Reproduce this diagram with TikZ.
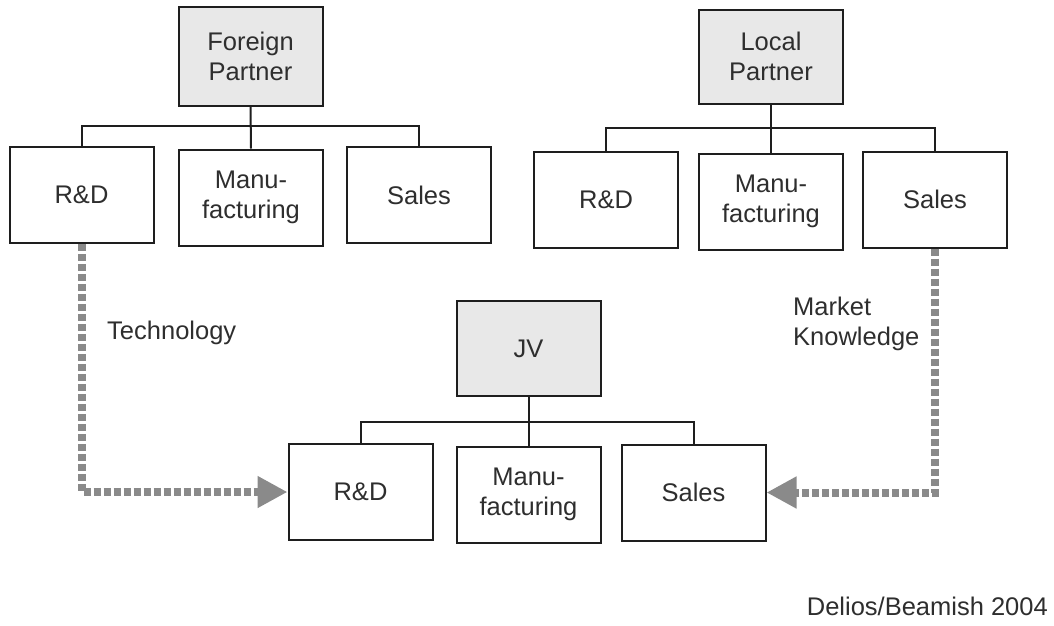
\documentclass[tikz,border=0pt]{standalone}
\usepackage{fontspec}
\setmainfont{Liberation Sans}
\usetikzlibrary{arrows.meta}
\definecolor{txt}{HTML}{2E2E2E}
\definecolor{edge}{HTML}{1E1E1E}
\definecolor{boxfill}{HTML}{E8E8E8}
\definecolor{flowgray}{HTML}{8A8A8A}
\begin{document}
\begin{tikzpicture}[x=1pt,y=-1pt,
  every node/.style={font=\fontsize{25.5}{30}\selectfont, text=txt},
  unit/.style={draw=edge, line width=2pt, minimum width=144pt, minimum height=96pt, inner sep=0pt, align=center, fill=white},
  head/.style={unit, fill=boxfill, minimum height=97pt},
  tree/.style={draw=edge, line width=2pt},
  flow/.style={draw=flowgray, line width=8pt, dash pattern=on 7pt off 3pt, -{Triangle[length=30pt,width=30pt]}},
  lbl/.style={align=left, inner sep=0pt}
]
\useasboundingbox (0,0) rectangle (1054,625);

% Foreign partner
\node[head, minimum height=99pt] (fp) at (250.5,56.5) {Foreign\\Partner};
\node[unit] (fr) at (81.5,195) {R\&D};
\node[unit] (fm) at (251,197.5) {Manu-\\facturing};
\node[unit] (fs) at (419,195) {Sales};
\coordinate (fbus) at (251,126);
\draw[tree] (fr.north) |- (fbus) -| (fs.north);
\draw[tree] (fp.south) -- (fm.north);

% Local partner
\node[head, minimum height=94pt] (lp) at (771,56.5) {Local\\Partner};
\node[unit] (lr) at (606,199.5) {R\&D};
\node[unit] (lm) at (771,201.5) {Manu-\\facturing};
\node[unit] (ls) at (935,199.5) {Sales};
\coordinate (lbus) at (771,128);
\draw[tree] (lr.north) |- (lbus) -| (ls.north);
\draw[tree] (lp.south) -- (lm.north);

% JV
\node[head, minimum height=95pt] (jv) at (528.5,348.5) {JV};
\node[unit] (jr) at (360.5,492) {R\&D};
\node[unit] (jm) at (528.5,494.5) {Manu-\\facturing};
\node[unit] (js) at (693.5,492.5) {Sales};
\coordinate (jbus) at (528.5,422);
\draw[tree] (jr.north) |- (jbus) -| (js.north);
\draw[tree] (jv.south) -- (jm.north);

% Flows
\draw[flow] (fr.south) |- (jr.west);
\draw[flow] (ls.south) |- (js.east);

% Labels
\node[lbl, anchor=base west] (tech) at (107,339) {Technology};
\node[lbl, anchor=north west] (mk) at (793,297) {Market\\Knowledge};
\node[lbl, anchor=base east] (src) at (1048,615) {Delios/Beamish 2004};
\end{tikzpicture}
\end{document}
